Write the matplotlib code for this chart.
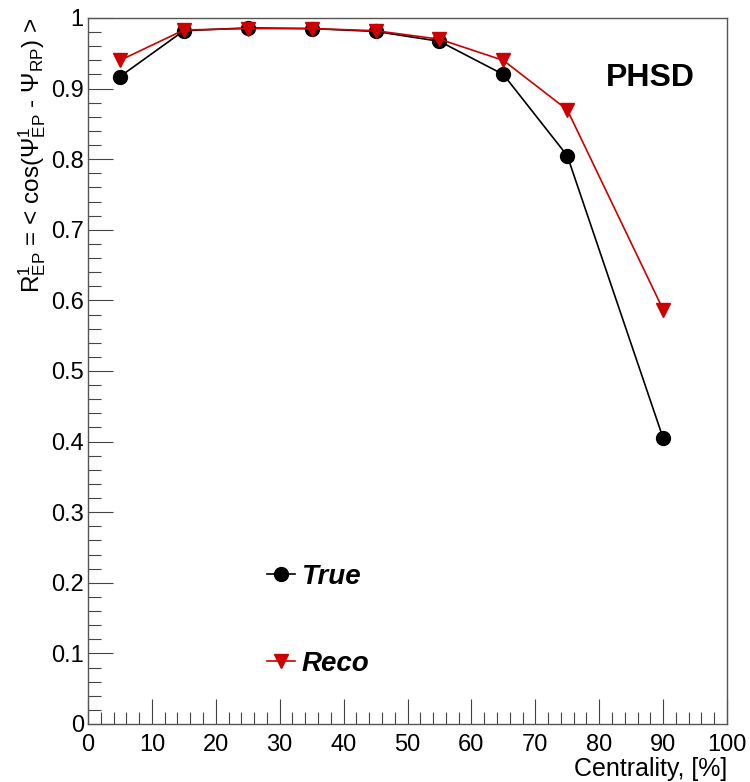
import matplotlib
matplotlib.use("Agg")
import matplotlib.pyplot as plt
from matplotlib.ticker import MultipleLocator, FixedLocator

plt.rcParams['font.family'] = ['Liberation Sans', 'DejaVu Sans']
plt.rcParams['mathtext.fontset'] = 'custom'
plt.rcParams['mathtext.rm'] = 'Liberation Sans'
plt.rcParams['mathtext.it'] = 'Liberation Sans:italic'
plt.rcParams['mathtext.bf'] = 'Liberation Sans:bold'

centrality = [5, 15, 25, 35, 45, 55, 65, 75, 90]
r_true = [0.917, 0.982, 0.986, 0.985, 0.981, 0.967, 0.920, 0.805, 0.405]
r_reco = [0.940, 0.983, 0.985, 0.985, 0.982, 0.970, 0.940, 0.870, 0.587]
x_ticks = [0, 10, 20, 30, 40, 50, 60, 70, 80, 90, 100]
y_ticks = [0, 0.1, 0.2, 0.3, 0.4, 0.5, 0.6, 0.7, 0.8, 0.9, 1.0]
y_tick_labels = ["0", "0.1", "0.2", "0.3", "0.4", "0.5", "0.6", "0.7", "0.8", "0.9", "1"]

fig = plt.figure(figsize=(7.5, 7.82), dpi=100)
ax = fig.add_axes([88/750, 1 - 724/782, (727 - 88)/750, (724 - 18)/782])

l1, = ax.plot(centrality, r_true, color='black', lw=1.2, marker='o', ms=10, label='True')
l2, = ax.plot(centrality, r_reco, color='#cc0000', lw=1.2, marker='v', ms=10, label='Reco')

ax.set_xlim(0, 100)
ax.set_ylim(0, 1)
ax.xaxis.set_major_locator(FixedLocator(x_ticks))
ax.xaxis.set_minor_locator(MultipleLocator(2))
ax.yaxis.set_major_locator(FixedLocator(y_ticks))
ax.set_yticklabels(y_tick_labels)
ax.yaxis.set_minor_locator(MultipleLocator(0.02))
ax.tick_params(which='both', direction='in', top=False, right=False, labelsize=17, width=0.8, color='#444444')
ax.tick_params(which='major', length=18, pad=3)
ax.tick_params(axis='x', which='major', pad=7)
ax.tick_params(which='minor', length=9)
for s in ax.spines.values():
    s.set_color('#555555')
    s.set_linewidth(1.0)

ax.set_xlabel('Centrality, [%]', fontsize=18, loc='right', labelpad=1)
ax.set_ylabel(r'R$^{1}_{\rm EP}$ = < cos($\Psi^{1}_{\rm EP}$ - $\Psi_{\rm RP}$) >', fontsize=17.5, loc='top', labelpad=2)

ax.text(0.95, 0.915, 'PHSD', transform=ax.transAxes, fontsize=23, fontweight='bold', ha='right', va='center')

leg = ax.legend(handles=[l1, l2], loc='lower left', bbox_to_anchor=(0.245, 0.035), frameon=False,
                prop={'weight': 'bold', 'style': 'italic', 'size': 20}, numpoints=1,
                handlelength=1.0, handletextpad=0.25, labelspacing=2.2, borderpad=0.3)

fig.savefig('out.png', dpi=100)
